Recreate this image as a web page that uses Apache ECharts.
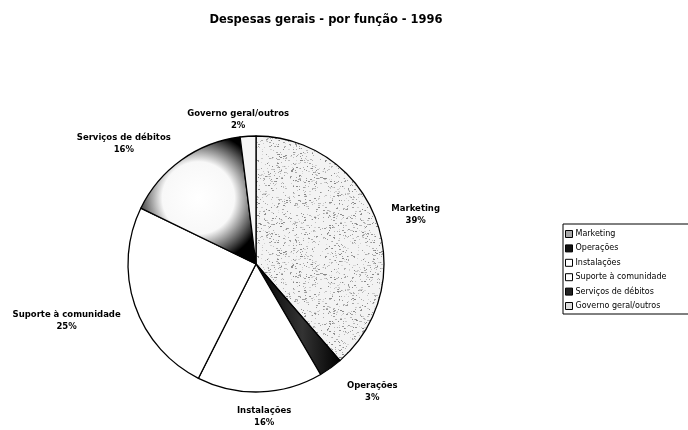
<!DOCTYPE html>
<html>
<head>
<meta charset="utf-8">
<script src="https://cdn.jsdelivr.net/npm/echarts@6/dist/echarts.min.js"></script>
<style>
  html, body { margin: 0; padding: 0; background: #fff; }
  #chart { width: 688px; height: 430px; }
</style>
</head>
<body>
<div id="chart"></div>
<script>
// Despesas gerais por função (percentagens)
const titleText = 'Despesas gerais - por função - 1996';
const categories = ['Marketing', 'Operações', 'Instalações', 'Suporte à comunidade', 'Serviços de débitos', 'Governo geral/outros'];
const shares = [39, 3, 16, 25, 16, 2];

// Pie geometry and label placement tweaks (kept apart from the data)
const PIE_CENTER = [256, 264];
const PIE_RADIUS = 128;
const labelGaps = [16, 27, 13, 20.5, 22, 5];         // px beyond the rim
const labelAngleShift = [2, -4.5, -1, -2.1, -6.5, -2]; // degrees, clockwise

// Stippled grey texture for the marketing wedge (deterministic hash pattern)
function stipple(size) {
  const c = document.createElement('canvas');
  c.width = size; c.height = size;
  const g = c.getContext('2d');
  g.fillStyle = '#f3f3f3';
  g.fillRect(0, 0, size, size);
  let s = 12345;
  const next = () => { s = (s * 1103515245 + 12345) & 0x7fffffff; return s / 0x7fffffff; };
  for (let i = 0; i < size * size * 0.10; i++) {
    const x = Math.floor(next() * size), y = Math.floor(next() * size);
    const v = 130 + Math.floor(next() * 90);
    g.fillStyle = 'rgb(' + v + ',' + v + ',' + v + ')';
    g.fillRect(x, y, next() > 0.7 ? 2 : 1, 1);
  }
  return c;
}
const speckle = { image: stipple(96), repeat: 'repeat' };

const fills = [
  speckle,
  { type: 'linear', x: 0, y: 0, x2: 1, y2: 0, colorStops: [
      { offset: 0, color: '#000' }, { offset: 0.55, color: '#333' }, { offset: 1, color: '#000' }] },
  '#ffffff',
  '#ffffff',
  { type: 'radial', x: 0.5, y: 0.48, r: 0.62, colorStops: [
      { offset: 0, color: '#ffffff' }, { offset: 0.5, color: '#f8f8f8' },
      { offset: 0.77, color: '#5a5a5a' }, { offset: 0.92, color: '#000000' }, { offset: 1, color: '#000000' }] },
  '#f6f6f6'
];
const legendIcons = ['#a8a8a8', '#111', '#fff', '#fff', '#222', '#ddd'];

const total = shares.reduce((a, b) => a + b, 0);
// mid angle of each wedge, clockwise from 12 o'clock (radians)
const midAngles = [];
shares.reduce((acc, v) => { midAngles.push((acc + v / 2) / total * 2 * Math.PI); return acc + v; }, 0);

const pieData = categories.map((name, i) => ({
  name: name,
  value: shares[i],
  itemStyle: { color: fills[i] }
}));

const chart = echarts.init(document.getElementById('chart'), null, { renderer: 'canvas' });
chart.setOption({
  animation: false,
  backgroundColor: '#ffffff',
  title: {
    text: titleText,
    left: 321,
    textAlign: 'center',
    top: 9,
    textStyle: { fontFamily: 'DejaVu Sans', fontWeight: 'bold', fontSize: 11.5, color: '#000' }
  },
  legend: {
    orient: 'vertical',
    left: 563,
    top: 224,
    itemWidth: 7,
    itemHeight: 7,
    itemGap: 6.4,
    padding: [6, 40, 4, 2],
    borderColor: '#000',
    borderWidth: 1,
    icon: 'rect',
    textStyle: { fontFamily: 'DejaVu Sans', fontSize: 8, lineHeight: 8, color: '#000', padding: [0, 0, 0, -2] },
    data: categories.map((name, i) => ({
      name: name,
      itemStyle: { color: legendIcons[i], borderColor: '#000', borderWidth: 1 }
    }))
  },
  series: [{
    type: 'pie',
    center: PIE_CENTER,
    radius: PIE_RADIUS,
    startAngle: 90,
    clockwise: true,
    itemStyle: { borderColor: '#000', borderWidth: 1.3 },
    label: {
      show: true,
      position: 'outside',
      alignTo: 'none',
      overflow: 'none',
      formatter: '{b}\n{c}%',
      fontFamily: 'DejaVu Sans',
      fontWeight: 'bold',
      fontSize: 8.5,
      lineHeight: 12,
      color: '#000',
      align: 'center'
    },
    labelLine: { show: false },
    // place each label box just outside the rim near its wedge's mid angle
    labelLayout: function (p) {
      const i = p.dataIndex;
      const a = midAngles[i] + labelAngleShift[i] * Math.PI / 180;
      const ux = Math.sin(a), uy = -Math.cos(a);
      const r = PIE_RADIUS + labelGaps[i];
      const w = p.labelRect.width, h = p.labelRect.height;
      return {
        x: PIE_CENTER[0] + ux * r + ux * w / 2,
        y: PIE_CENTER[1] + uy * r + uy * h / 2,
        align: 'center',
        verticalAlign: 'middle'
      };
    },
    emphasis: { disabled: true },
    data: pieData
  }]
});
</script>
</body>
</html>
